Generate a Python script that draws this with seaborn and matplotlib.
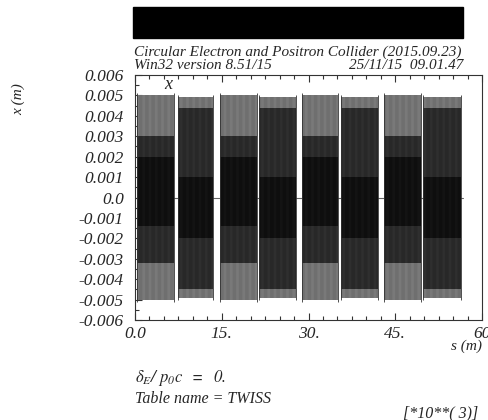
import matplotlib
matplotlib.use('Agg')
import matplotlib.pyplot as plt
import seaborn as sns
import numpy as np

# orbit blocks along the ring, s in units of 10**3 m
block_start = [0.3, 7.4, 14.7, 21.4, 28.9, 35.6, 43.1, 49.8]
block_end = [6.7, 13.5, 21.1, 27.9, 35.1, 42.0, 49.5, 56.4]
ring_s = [0.0, 56.7]
ring_x = [0.0, 0.0]

# envelope levels of x (m) inside each block, outer -> inner
top_outer = [0.0050, 0.0049, 0.0050, 0.0049, 0.0050, 0.0049, 0.0050, 0.0049]
top_mid = [0.0030, 0.0044, 0.0030, 0.0044, 0.0030, 0.0044, 0.0030, 0.0044]
top_core = [0.0020, 0.0010, 0.0020, 0.0010, 0.0020, 0.0010, 0.0020, 0.0010]
bot_core = [-0.0014, -0.0020, -0.0014, -0.0020, -0.0014, -0.0020, -0.0014, -0.0020]
bot_mid = [-0.0032, -0.0045, -0.0032, -0.0045, -0.0032, -0.0045, -0.0032, -0.0045]
bot_outer = [-0.0050, -0.0049, -0.0050, -0.0049, -0.0050, -0.0049, -0.0050, -0.0049]

xticks = [0, 15, 30, 45, 60]
xtick_labels = ['0.0', '15.', '30.', '45.', '60']
yticks = [0.006, 0.005, 0.004, 0.003, 0.002, 0.001, 0.0, -0.001, -0.002,
          -0.003, -0.004, -0.005, -0.006]
ytick_labels = ['0.006', '0.005', '0.004', '0.003', '0.002', '0.001', '0.0',
                '-0.001', '-0.002', '-0.003', '-0.004', '-0.005', '-0.006']

sns.set_style('ticks')
plt.rcParams['font.family'] = ['Liberation Serif', 'DejaVu Serif']
plt.rcParams['font.style'] = 'italic'
plt.rcParams['mathtext.fontset'] = 'stix'
plt.rcParams['hatch.linewidth'] = 0.5

fig = plt.figure(figsize=(4.88, 4.20), dpi=100)
ax = fig.add_axes([135 / 488, 100 / 420, 347 / 488, 245 / 420])

sns.lineplot(x=ring_s, y=ring_x, ax=ax, color='#666666', lw=0.8, zorder=0.5)

# (face, streak) colours of the outer, middle and core bands
light = ('#555555', '#8a8a8a')
mid = ('#161616', '#3a3a3a')
core = ('#000000', '#1c1c1c')
for i in range(len(block_start)):
    xs = [block_start[i], block_end[i]]
    bands = [
        (top_mid[i], top_outer[i], light),
        (top_core[i], top_mid[i], mid),
        (bot_core[i], top_core[i], core),
        (bot_mid[i], bot_core[i], mid),
        (bot_outer[i], bot_mid[i], light),
    ]
    for lo, hi, (fc, hc) in bands:
        ax.fill_between(xs, [lo, lo], [hi, hi], facecolor=fc, edgecolor=hc,
                        hatch='|' * 14, lw=0, zorder=1)
    ax.vlines(xs, bot_outer[i] - 0.0001, top_outer[i] + 0.0001, color='#333333',
              lw=0.6, zorder=1.5)

ax.set_xlim(0, 60)
ax.set_ylim(-0.006, 0.006)
ax.set_xticks(xticks)
ax.set_xticklabels(xtick_labels, fontstyle='italic')
ax.set_yticks(yticks)
ax.set_yticklabels(ytick_labels, fontstyle='italic')
ax.set_xticks(np.arange(0, 60.1, 2.5), minor=True)
ax.set_yticks(np.arange(-0.006, 0.00601, 0.0005), minor=True)
ax.tick_params(which='both', direction='in', top=True, right=False, labelsize=12.5,
               width=0.8, color='#333333')
ax.tick_params(which='major', length=5)
ax.tick_params(which='minor', length=3)
ax.tick_params(axis='y', pad=8)
ax.tick_params(axis='x', pad=4)
for sp in ax.spines.values():
    sp.set_linewidth(0.8)
    sp.set_color('#333333')

ax.text(5.0, 0.0053, 'x', fontsize=13, style='italic')

# header
fig.patches.append(plt.Rectangle((133 / 488, 1 - 38 / 420), 330 / 488, 31 / 420,
                                 transform=fig.transFigure, color='black'))
fig.text(134 / 488, 1 - 56 / 420, 'Circular Electron and Positron Collider (2015.09.23)',
         fontsize=11, style='italic')
fig.text(134 / 488, 1 - 69 / 420, 'Win32 version 8.51/15', fontsize=11, style='italic')
fig.text(463 / 488, 1 - 69 / 420, '25/11/15  09.01.47', fontsize=11, style='italic',
         ha='right')

fig.text(18 / 488, 1 - 99 / 420, 'x (m)', fontsize=11, style='italic', rotation=90,
         ha='center', va='center')
fig.text(482 / 488, 1 - 346 / 420, 's (m)', fontsize=11, style='italic', ha='right',
         va='center')
fig.text(135 / 488, 1 - 378 / 420, r'$\delta_{E}/\ p_{0}c\ \ =\ \ 0.$', fontsize=12,
         va='center')
fig.text(135 / 488, 1 - 399 / 420, 'Table name = TWISS', fontsize=11.5, style='italic',
         va='center')
fig.text(478 / 488, 1 - 413 / 420, '[*10**( 3)]', fontsize=11.5, style='italic',
         ha='right', va='center')

fig.savefig('out.png', dpi=100)
